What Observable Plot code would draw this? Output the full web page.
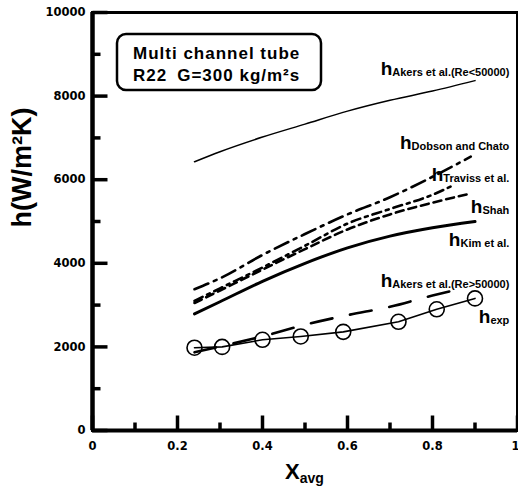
<!DOCTYPE html>
<html>
<head>
<meta charset="utf-8">
<script src="https://cdn.jsdelivr.net/npm/d3@7"></script>
<script src="https://cdn.jsdelivr.net/npm/@observablehq/plot@0.6"></script>
<style>
  html, body { margin: 0; padding: 0; background: #fff; }
  #chart svg { display: block; }
</style>
</head>
<body>
<div id="chart"></div>
<script>
// Heat transfer coefficient h (W/m²K) versus average vapour quality,
// R22 in a multi channel tube at G = 300 kg/m²s.
const akersLowX = [0.24, 0.3, 0.4, 0.5, 0.6, 0.7, 0.8, 0.9];
const akersLowH = [6430, 6670, 7020, 7330, 7640, 7900, 8120, 8370];

const dobsonX = [0.24, 0.3, 0.4, 0.5, 0.6, 0.7, 0.8, 0.89];
const dobsonH = [3380, 3640, 4200, 4700, 5170, 5580, 6070, 6550];

const travissX = [0.24, 0.3, 0.4, 0.5, 0.6, 0.7, 0.8, 0.85];
const travissH = [3100, 3400, 3900, 4420, 4950, 5300, 5640, 5870];

const shahX = [0.24, 0.3, 0.4, 0.5, 0.6, 0.7, 0.8, 0.89];
const shahH = [3050, 3350, 3850, 4340, 4810, 5170, 5450, 5670];

const kimX = [0.24, 0.3, 0.4, 0.5, 0.6, 0.7, 0.8, 0.9];
const kimH = [2790, 3080, 3570, 4000, 4370, 4650, 4850, 5000];

const akersHighX = [0.24, 0.3, 0.4, 0.5, 0.6, 0.7, 0.8, 0.875];
const akersHighH = [1870, 2010, 2250, 2530, 2760, 2960, 3230, 3410];

// measured points
const expX = [0.24, 0.305, 0.40, 0.49, 0.59, 0.72, 0.81, 0.90];
const expH = [1980, 2000, 2170, 2250, 2360, 2600, 2900, 3160];

// axis ticks
const xMajor = [0, 0.2, 0.4, 0.6, 0.8, 1];
const xMinor = [0.1, 0.3, 0.5, 0.7, 0.9];
const yMajor = [0, 2000, 4000, 6000, 8000, 10000];
const yMinor = [1000, 3000, 5000, 7000, 9000];

// curve labels: subscript text and the h level of each label's baseline
const labelNames = ["Akers et al.(Re<50000)", "Dobson and Chato", "Traviss et al.", "Shah", "Kim et al.", "Akers et al.(Re>50000)", "exp"];
const labelLevels = [8500, 6720, 5950, 5190, 4400, 3420, 2570];

const rows = (xs, hs) => xs.map((x, i) => ({x, h: hs[i]}));

const W = 518, H = 486;
const M = {top: 12, right: 1, bottom: 56, left: 92};
const frameW = W - M.left - M.right;
const frameH = H - M.top - M.bottom;
const xDomain = [0, 1], yDomain = [0, 10000];
// tick lengths given in pixels, converted to each axis's units
const lenAlongY = px => (px / frameH) * (yDomain[1] - yDomain[0]);
const lenAlongX = px => (px / frameW) * (xDomain[1] - xDomain[0]);

const tickFont = "DejaVu Sans, sans-serif";
const textFont = "Liberation Sans, Arial, sans-serif";
const tickText = {fontSize: 11.5, fontWeight: "bold", fontFamily: tickFont};

const xTickMark = (ticks, px) => Plot.link(ticks, {
  x1: d => d, x2: d => d, y1: yDomain[0], y2: yDomain[0] + lenAlongY(px),
  stroke: "black", strokeWidth: 3.5
});
const yTickMark = (ticks, px) => Plot.link(ticks, {
  y1: d => d, y2: d => d, x1: xDomain[0], x2: xDomain[0] + lenAlongX(px),
  stroke: "black", strokeWidth: 3.5
});

const plot = Plot.plot({
  width: W,
  height: H,
  marginLeft: M.left,
  marginRight: M.right,
  marginTop: M.top,
  marginBottom: M.bottom,
  x: {domain: xDomain, axis: null},
  y: {domain: yDomain, axis: null},
  marks: [
    Plot.frame({stroke: "black", strokeWidth: 3}),
    // heavier left and bottom axis lines
    Plot.ruleX([xDomain[0]], {stroke: "black", strokeWidth: 4.5}),
    Plot.ruleY([yDomain[0]], {stroke: "black", strokeWidth: 4}),
    // ticks pointing into the frame
    xTickMark(xMajor, 15),
    xTickMark(xMinor, 8),
    yTickMark(yMajor, 15),
    yTickMark(yMinor, 8),
    Plot.text(xMajor.filter(d => d < 1), {x: d => d, y: 0, text: d => String(d), dy: 16, ...tickText}),
    Plot.text(xMajor.filter(d => d === 1), {x: d => d, y: 0, text: d => String(d), dy: 16, dx: 2, textAnchor: "end", ...tickText}),
    Plot.text(yMajor, {x: 0, y: d => d, text: d => String(d), dx: -7, textAnchor: "end", ...tickText}),
    Plot.text(["h(W/m²K)"], {frameAnchor: "left", dx: -70, dy: 6, rotate: -90, fontSize: 27, fontWeight: "bold", fontFamily: textFont}),
    // correlations
    Plot.line(rows(akersLowX, akersLowH), {x: "x", y: "h", strokeWidth: 1.5, curve: "monotone-x"}),
    Plot.line(rows(dobsonX, dobsonH), {x: "x", y: "h", strokeWidth: 2.6, strokeDasharray: "15,6,3,6", curve: "monotone-x"}),
    Plot.line(rows(travissX, travissH), {x: "x", y: "h", strokeWidth: 2.6, strokeDasharray: "9,5,3,5", curve: "monotone-x"}),
    Plot.line(rows(shahX, shahH), {x: "x", y: "h", strokeWidth: 2.6, strokeDasharray: "8,5", curve: "monotone-x"}),
    Plot.line(rows(kimX, kimH), {x: "x", y: "h", strokeWidth: 3, curve: "monotone-x"}),
    Plot.line(rows(akersHighX, akersHighH), {x: "x", y: "h", strokeWidth: 2.6, strokeDasharray: "22,18", curve: "monotone-x"}),
    // experiment
    Plot.line(rows(expX, expH), {x: "x", y: "h", strokeWidth: 1.6}),
    Plot.dot(rows(expX, expH), {x: "x", y: "h", r: 7.5, stroke: "black", strokeWidth: 1.6, fill: "none"})
  ]
});

document.getElementById("chart").append(plot);

const svg = d3.select(plot);
const sx = plot.scale("x");
const sy = plot.scale("y");

// curve labels: large h with a small subscript, right-aligned near the frame
labelNames.forEach((name, i) => {
  const t = svg.append("text")
    .attr("x", sx.apply(0.982))
    .attr("y", sy.apply(labelLevels[i]))
    .attr("text-anchor", "end")
    .attr("font-family", textFont)
    .attr("font-weight", "bold");
  t.append("tspan").attr("font-size", 19).text("h");
  t.append("tspan").attr("font-size", 11).attr("dy", 1).text(name);
});

// x axis title with subscript
const xt = svg.append("text")
  .attr("x", sx.apply(0.5))
  .attr("y", 479)
  .attr("text-anchor", "middle")
  .attr("font-family", textFont)
  .attr("font-weight", "bold");
xt.append("tspan").attr("font-size", 22).text("X");
xt.append("tspan").attr("font-size", 14).attr("dy", 4).text("avg");

// description box
const box = svg.append("g")
  .attr("font-family", textFont)
  .attr("font-weight", "bold")
  .attr("font-size", 17)
  .attr("text-anchor", "start");
box.append("rect")
  .attr("x", 117).attr("y", 34).attr("width", 204).attr("height", 56)
  .attr("rx", 9).attr("fill", "white").attr("stroke", "black").attr("stroke-width", 2.5);
box.append("text").attr("x", 133).attr("y", 59).attr("letter-spacing", 1).text("Multi channel tube");
const line2 = box.append("text").attr("x", 133).attr("y", 81).attr("letter-spacing", 1);
line2.append("tspan").text("R22");
line2.append("tspan").attr("dx", 10).text("G=300 kg/m²s");
</script>
</body>
</html>
